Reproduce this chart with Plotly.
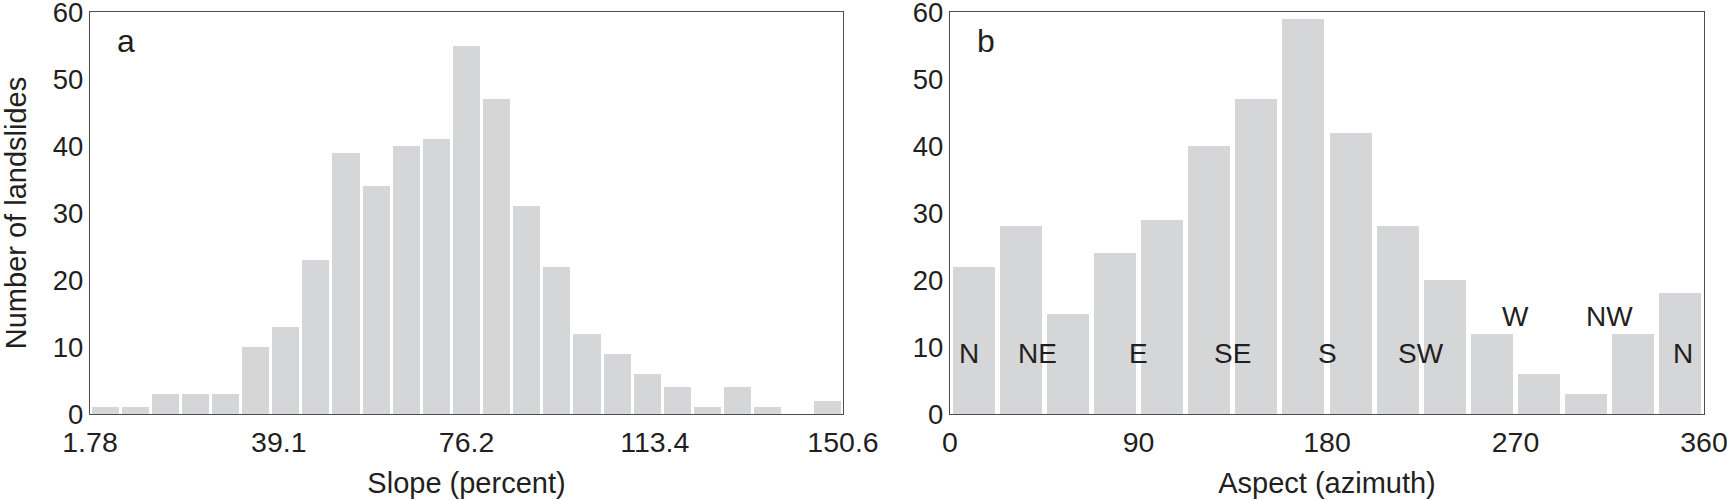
import plotly.graph_objects as go
from plotly.subplots import make_subplots

# ---- Data ----
slope_start = 1.78
slope_end = 150.6
slope_counts = [1, 1, 3, 3, 3, 10, 13, 23, 39, 34, 40, 41, 55, 47, 31, 22, 12, 9, 6, 4, 1, 4, 1, 0, 2]
slope_ticks = [1.78, 39.1, 76.2, 113.4, 150.6]
slope_ticktext = ["1.78", "39.1", "76.2", "113.4", "150.6"]

aspect_start = 0
aspect_end = 360
aspect_counts = [22, 28, 15, 24, 29, 40, 47, 59, 42, 28, 20, 12, 6, 3, 12, 18]
aspect_ticks = [0, 90, 180, 270, 360]

dir_labels = ["N", "NE", "E", "SE", "S", "SW", "W", "NW", "N"]
dir_x = [9, 42, 90, 135, 180, 225, 270, 315, 350]
dir_y = [9, 9, 9, 9, 9, 9, 14.5, 14.5, 9]

y_ticks = [0, 10, 20, 30, 40, 50, 60]

BAR = "#d5d6d8"
TXT = "#231f20"
AX = "#4d4d4d"
FONT = "Liberation Sans, Arial, sans-serif"
XTICK = 28.5
YTICK = 27.5
TITLE = 29


def centers(start, end, n):
    w = (end - start) / n
    return [start + w * (i + 0.5) for i in range(n)], w


sx, sw = centers(slope_start, slope_end, len(slope_counts))
ax_, aw = centers(aspect_start, aspect_end, len(aspect_counts))

fig = make_subplots(rows=1, cols=2, horizontal_spacing=0.06)

fig.add_trace(go.Bar(x=sx, y=slope_counts, width=sw * 0.9, marker=dict(color=BAR, line=dict(width=0)),
                     showlegend=False), row=1, col=1)
fig.add_trace(go.Bar(x=ax_, y=aspect_counts, width=aw * 0.89, marker=dict(color=BAR, line=dict(width=0)),
                     showlegend=False), row=1, col=2)

W, H = 1727, 500
fig.update_layout(
    width=W, height=H,
    margin=dict(l=0, r=0, t=12, b=86, autoexpand=False),
    paper_bgcolor="white", plot_bgcolor="white",
    font=dict(family=FONT, color=TXT, size=XTICK),
    bargap=0,
)

common_axis = dict(showline=True, linecolor=AX, linewidth=1.2, mirror=True, showgrid=False,
                   zeroline=False, ticks="", automargin=False, ticklabeloverflow="allow")

fig.update_xaxes(common_axis, tickfont=dict(size=XTICK, color=TXT, family=FONT), ticklabelstandoff=3)
fig.update_yaxes(common_axis, tickfont=dict(size=YTICK, color=TXT, family=FONT))

fig.update_xaxes(domain=[90 / W, 843 / W], range=[slope_start, slope_end], tickmode="array",
                 tickvals=slope_ticks, ticktext=slope_ticktext,
                 title=dict(text="Slope (percent)", font=dict(size=TITLE, color=TXT), standoff=15),
                 row=1, col=1)
fig.update_xaxes(domain=[950 / W, 1704 / W], range=[aspect_start, aspect_end], tickmode="array",
                 tickvals=aspect_ticks,
                 title=dict(text="Aspect (azimuth)", font=dict(size=TITLE, color=TXT), standoff=15),
                 row=1, col=2)
fig.update_yaxes(range=[0, 60], tickmode="array", tickvals=y_ticks,
                 title=dict(text="Number of landslides", font=dict(size=TITLE, color=TXT), standoff=24),
                 row=1, col=1)
fig.update_yaxes(range=[0, 60], tickmode="array", tickvals=y_ticks, row=1, col=2)

# panel letters
fig.add_annotation(text="a", xref="x domain", yref="y domain", x=0.033, y=0.928, showarrow=False,
                   xanchor="left", yanchor="middle", font=dict(size=32, color=TXT))
fig.add_annotation(text="b", xref="x2 domain", yref="y2 domain", x=0.033, y=0.928, showarrow=False,
                   xanchor="left", yanchor="middle", font=dict(size=32, color=TXT))

for t, x, y in zip(dir_labels, dir_x, dir_y):
    fig.add_annotation(text=t, x=x, y=y, xref="x2", yref="y2", showarrow=False,
                       xanchor="center", yanchor="middle", font=dict(size=28, color=TXT))

fig.write_html("out.html", config={"displayModeBar": False},
               post_script="document.body.style.margin='0px';")
